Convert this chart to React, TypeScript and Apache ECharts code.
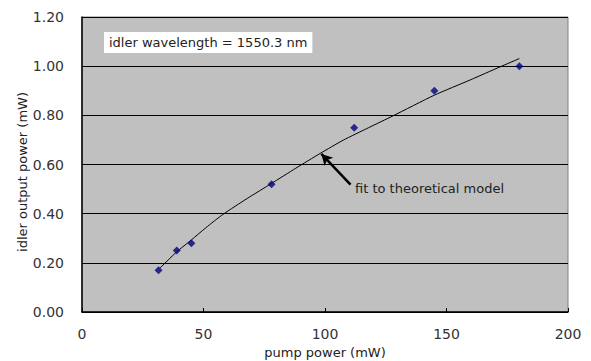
import React, { useEffect, useRef } from "react";
import * as echarts from "echarts";

const pumpPower = [31.5, 39, 45, 78, 112, 145, 180];
const idlerPower = [0.17, 0.25, 0.28, 0.52, 0.75, 0.9, 1.0];

const fitX = [32, 39, 45, 51, 58, 68, 78, 88, 98, 107.5, 118, 128, 145, 160, 172, 180];
const fitY = [0.178, 0.245, 0.293, 0.343, 0.397, 0.462, 0.523, 0.585, 0.645, 0.699, 0.75, 0.798, 0.882, 0.945, 0.997, 1.031];

const xTicks = { min: 0, max: 200, interval: 50 };
const yTicks = { min: 0, max: 1.2, interval: 0.2 };

const FONT = "DejaVu Sans";

export default function App() {
  const ref = useRef<HTMLDivElement>(null);
  useEffect(() => {
    if (!ref.current) return;
    const chart = echarts.init(ref.current, undefined, { renderer: "svg" });
    chart.setOption({
      animation: false,
      backgroundColor: "#ffffff",
      textStyle: { fontFamily: FONT },
      title: {
        text: "idler wavelength = 1550.3 nm",
        left: 104,
        top: 32,
        padding: [4, 5, 4, 5],
        backgroundColor: "#ffffff",
        textStyle: { fontFamily: FONT, fontSize: 13, fontWeight: "normal", color: "#222" },
      },
      grid: {
        left: 82,
        right: 23,
        top: 17,
        bottom: 49,
        containLabel: false,
        outerBoundsMode: "none",
        show: true,
        backgroundColor: "#c0c0c0",
        borderColor: "#808080",
        borderWidth: 1,
      },
      xAxis: {
        type: "value",
        min: xTicks.min,
        max: xTicks.max,
        interval: xTicks.interval,
        name: "pump power (mW)",
        nameLocation: "middle",
        nameGap: 33,
        nameTextStyle: { fontFamily: FONT, fontSize: 13, color: "#222" },
        axisLine: { show: true, lineStyle: { color: "#000", width: 1.5 } },
        axisTick: { show: true, inside: true, length: 4, lineStyle: { color: "#000" } },
        axisLabel: { fontFamily: FONT, fontSize: 14, color: "#333", margin: 15 },
        splitLine: { show: false },
      },
      yAxis: {
        type: "value",
        min: yTicks.min,
        max: yTicks.max,
        interval: yTicks.interval,
        axisLine: { show: true, lineStyle: { color: "#000", width: 1.5 } },
        axisTick: { show: true, inside: true, length: 4, lineStyle: { color: "#000" } },
        axisLabel: {
          fontFamily: FONT,
          fontSize: 14,
          color: "#333",
          margin: 18,
          formatter: (v: number) => v.toFixed(2),
        },
        splitLine: { show: true, lineStyle: { color: "#000", width: 1 } },
      },
      series: [
        {
          type: "line",
          data: fitX.map((x, i) => [x, fitY[i]]),
          showSymbol: false,
          smooth: 0.2,
          lineStyle: { color: "#000", width: 1 },
          z: 3,
          markLine: {
            silent: true,
            symbol: ["arrow", "none"],
            symbolSize: [9, 11],
            lineStyle: { color: "#000", width: 2.5, type: "solid" },
            label: { show: false },
            data: [[{ coord: [98.5, 0.643] }, { coord: [110.5, 0.518] }]],
          },
        },
        {
          type: "scatter",
          data: pumpPower.map((x, i) => [x, idlerPower[i]]),
          symbol: "diamond",
          symbolSize: 8,
          itemStyle: { color: "#000080" },
          z: 4,
        },
      ],
      graphic: [
        {
          type: "text",
          left: 355,
          top: 182,
          style: { text: "fit to theoretical model", font: `13px "${FONT}"`, fill: "#222" },
        },
        {
          type: "text",
          x: 22,
          y: 172,
          rotation: Math.PI / 2,
          style: {
            text: "idler output power (mW)",
            font: `13px "${FONT}"`,
            fill: "#222",
            align: "center",
            verticalAlign: "middle",
          },
        },
      ],
    });
    return () => chart.dispose();
  }, []);
  return <div ref={ref} style={{ position: "fixed", left: 0, top: 0, width: 591, height: 361 }} />;
}
